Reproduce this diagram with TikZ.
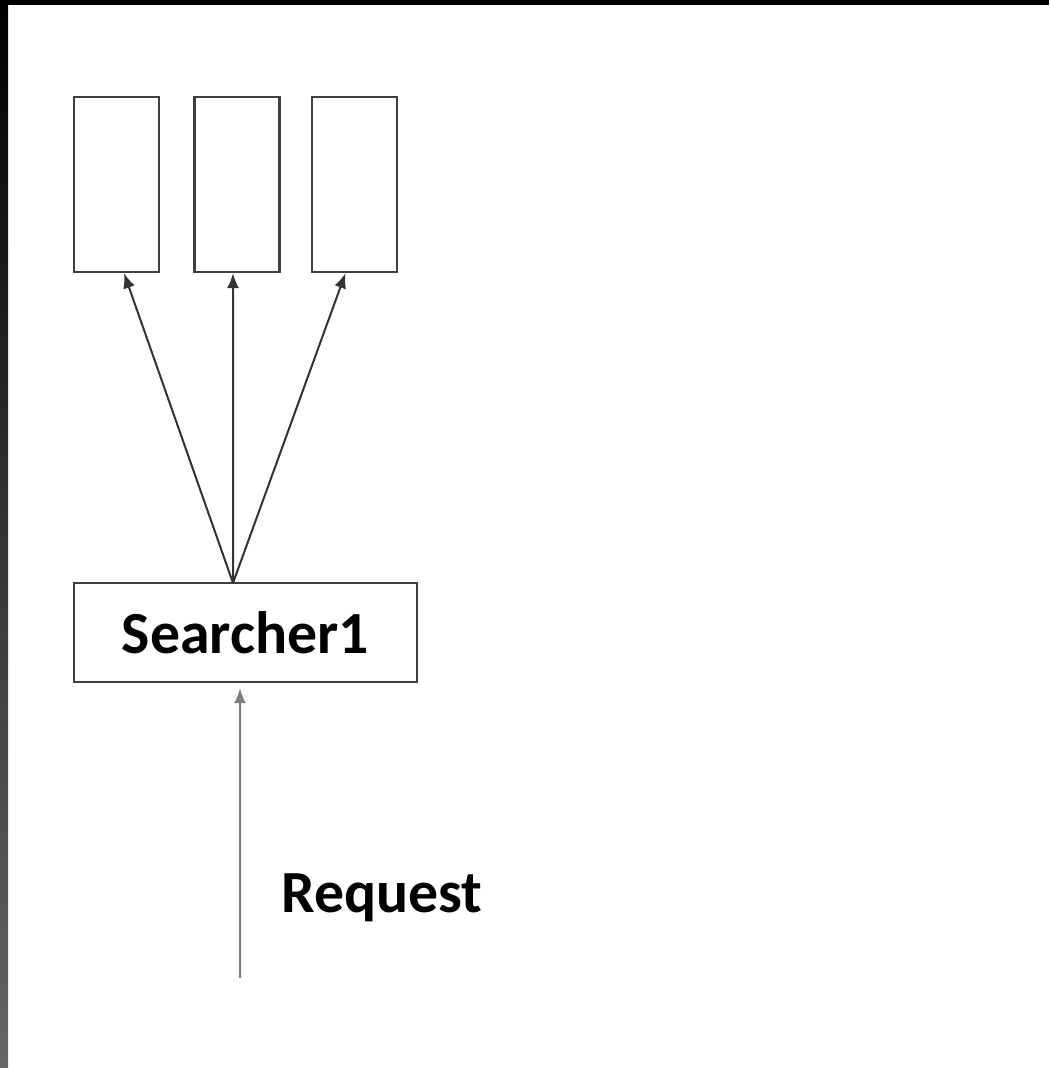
\documentclass[tikz,border=0pt]{standalone}
\usepackage{fontspec}
\setmainfont{Carlito}
\usetikzlibrary{arrows.meta}

\tikzset{
	slot/.style={draw=black!75, line width=0.022cm, minimum width=0.85cm, minimum height=1.75cm, inner sep=0pt},
	searcher/.style={draw=black!75, line width=0.022cm, minimum width=3.43cm, minimum height=0.99cm, inner sep=0pt, font=\fontsize{17}{20}\selectfont\bfseries},
	pfeil/.style={draw=black!80, line width=0.02cm, -{Latex[length=0.15cm,width=0.12cm]}}
}

\begin{document}
\begin{tikzpicture}[x=0.01cm, y=-0.01cm]
	\useasboundingbox (0,0) rectangle (1049,1068);
	\fill[white] (0,0) rectangle (1049,1068); % Hintergrund
	
	% dunkler Rand oben und links
	\fill[black] (0,0) rectangle (1049,5);
	\shade[top color=black, bottom color=black!60] (0,0) rectangle (8,1068);
	
	% drei Felder oben
	\node[slot] (b1) at (116.5,184.5) {};
	\node[slot] (b2) at (237,184.5) {};
	\node[slot] (b3) at (354.5,184.5) {};
	
	\node[searcher] (s1) at (245.5,632.5) {Searcher1};
	\coordinate (fan) at (233,583);
	
	\draw[pfeil] (fan) -- ([xshift=0.075cm]b1.south);
	\draw[pfeil] (fan) -- ([xshift=-0.04cm]b2.south);
	\draw[pfeil] (fan) -- ([xshift=-0.09cm]b3.south);
	
	% Anfrage von unten
	\coordinate (req) at (240,978);
	\draw[pfeil, draw=black!50] (req) -- ([xshift=-0.055cm,yshift=-0.05cm]s1.south);
	\node[font=\fontsize{17}{20}\selectfont\bfseries] (rlabel) at (382,898) {Request};
	
\end{tikzpicture}
\end{document}
